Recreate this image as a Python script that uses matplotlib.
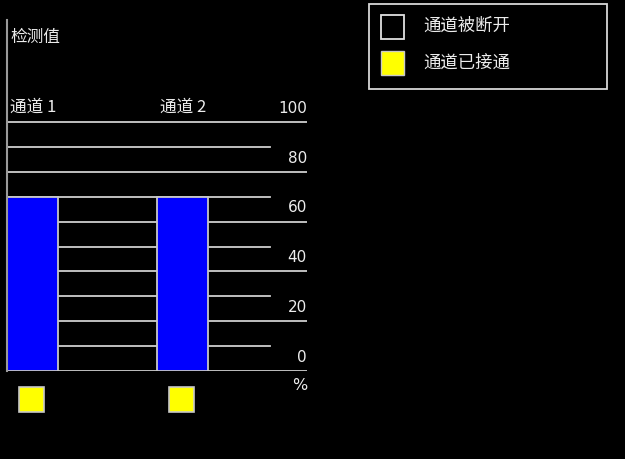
import matplotlib
matplotlib.use("Agg")
import matplotlib.pyplot as plt
from matplotlib.patches import Rectangle

plt.rcParams['font.family'] = ['Noto Sans CJK SC', 'DejaVu Sans']

# ---- data ----
channels = ["通道 1", "通道 2"]
values = [70, 70]                 # 检测值 (%)
connected = [True, True]          # 通道状态
y_ticks = [0, 20, 40, 60, 80, 100]
minor_lines = [10, 30, 50, 70, 90]
y_title = "检测值"
unit_label = "%"
legend_labels = ["通道被断开", "通道已接通"]

W, H = 625, 459
fig = plt.figure(figsize=(W / 100, H / 100), dpi=100, facecolor='black')

def fx(x):
    return x / W

def fy(y):
    return 1 - y / H

# main axes: x from 7px to 307px, y from 371px (0) up to 20px
px_per_unit = 2.49
ax = fig.add_axes([fx(7), fy(371), 300 / W, 351 / H])
ax.set_facecolor('black')
x0, x1 = -0.51, 5.49
ax.set_xlim(x0, x1)
ax.set_ylim(0, 351 / px_per_unit)
for s in ['top', 'right', 'bottom']:
    ax.spines[s].set_visible(False)
ax.spines['left'].set_color('#9a9a9a')
ax.spines['left'].set_linewidth(1.5)
ax.set_xticks([])
ax.set_yticks([])

txt = '#ececec'
grid_col = '#cfcfcf'

for v in y_ticks:
    ax.axhline(v, xmin=0, xmax=1, color=grid_col, lw=1.3, zorder=1)
    ax.text(x1, v + 5.5, str(v), ha='right', va='center', color=txt,
            fontsize=11, family=['DejaVu Sans'], zorder=3)
for v in minor_lines:
    ax.axhline(v, xmin=0, xmax=263 / 300, color=grid_col, lw=1.3, zorder=1)

xpos = [0, 3]
bw = 1.02
ax.bar(xpos, values, width=bw, color='#0000ff', edgecolor='#c8c8c8',
       linewidth=1.3, zorder=2)

for x, name in zip(xpos, channels):
    ax.text(x - bw / 2 + 0.06, 106, name, ha='left', va='center', color=txt,
            fontsize=12, zorder=3)

ax.text(x0 + 0.06, 134, y_title, ha='left', va='center', color=txt, fontsize=12)
ax.text(x1, -6.0, unit_label, ha='right', va='center', color=txt,
        fontsize=11.5, family=['DejaVu Sans'])

for x, c in zip(xpos, connected):
    ax.add_patch(Rectangle((x - 0.27, -16.6), 0.5, 10.1,
                           facecolor='#ffff00' if c else 'black',
                           edgecolor='#c8c8c8', lw=1.2, clip_on=False, zorder=3))

# legend box
fig.patches.append(Rectangle((fx(369), fy(89)), 238 / W, 85 / H,
                             transform=fig.transFigure, facecolor='black',
                             edgecolor='#d8d8d8', lw=1.3))
fig.patches.append(Rectangle((fx(381), fy(39)), 23 / W, 24 / H,
                             transform=fig.transFigure, facecolor='black',
                             edgecolor='#e0e0e0', lw=1.3))
fig.patches.append(Rectangle((fx(381), fy(75)), 23 / W, 24 / H,
                             transform=fig.transFigure, facecolor='#ffff00',
                             edgecolor='#c8c8c8', lw=1.0))
fig.text(fx(423), fy(26), legend_labels[0], ha='left', va='center',
         color=txt, fontsize=12.5)
fig.text(fx(423), fy(63), legend_labels[1], ha='left', va='center',
         color=txt, fontsize=12.5)

fig.savefig('out.png', dpi=100, facecolor='black')
